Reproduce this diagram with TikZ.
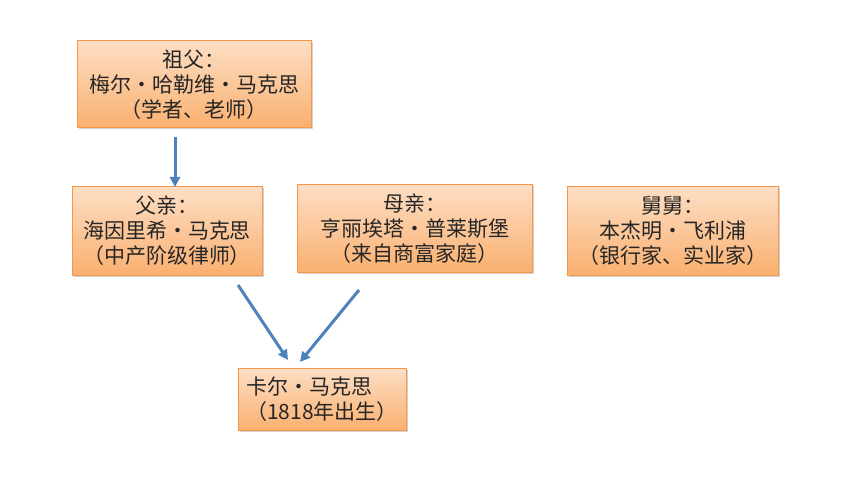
\documentclass[tikz,border=0pt]{standalone}
\usepackage{fontspec}
\setmainfont{Noto Sans CJK SC}
\usetikzlibrary{shadows,arrows.meta}
\definecolor{boxtop}{RGB}{253,222,196}
\definecolor{boxbot}{RGB}{250,176,112}
\definecolor{boxline}{RGB}{247,150,70}
\definecolor{arr}{RGB}{79,129,189}
\newcommand{\bdot}{•}
\tikzset{
  famboxstyle/.style={draw=boxline, line width=1pt, top color=boxtop, bottom color=boxbot,
    drop shadow={shadow xshift=1.5pt, shadow yshift=-1.5pt, fill=black!35, opacity=0.5},
    inner sep=0pt, font=\fontsize{21}{25}\selectfont, text=black!85, align=center},
  famarrow/.style={draw=arr, line width=3pt, -{Triangle[length=10pt,width=10pt]}}
}
\begin{document}
\begin{tikzpicture}[x=1pt,y=-1pt]
\useasboundingbox (0,0) rectangle (860,484);
\fill[white] (0,0) rectangle (860,484);
\node[famboxstyle, minimum width=234pt, minimum height=87pt] (gf) at (194,84.5) {祖父：\\梅尔\bdot 哈勒维\bdot 马克思\\（学者、老师）};
\node[famboxstyle, minimum width=190pt, minimum height=88pt] (fa) at (167,231) {父亲：\\海因里希\bdot 马克思\\（中产阶级律师）};
\node[famboxstyle, minimum width=235pt, minimum height=87pt] (mo) at (414.5,228.5) {母亲：\\亨丽埃塔\bdot 普莱斯堡\\（来自商富家庭）};
\node[famboxstyle, minimum width=211pt, minimum height=88pt] (un) at (672.5,231) {舅舅：\\本杰明\bdot 飞利浦\\（银行家、实业家）};
\node[famboxstyle, minimum width=168pt, minimum height=62pt, align=left] (ka) at (322,399) {卡尔\bdot 马克思\\（1818年出生）};
\coordinate (a1s) at (175,137);
\coordinate (a1e) at (175,187);
\coordinate (a2s) at (238,285);
\coordinate (a2e) at (288,360);
\coordinate (a3s) at (359,290);
\coordinate (a3e) at (300,362);
\draw[famarrow] (a1s) -- (a1e);
\draw[famarrow] (a2s) -- (a2e);
\draw[famarrow] (a3s) -- (a3e);
\end{tikzpicture}
\end{document}
